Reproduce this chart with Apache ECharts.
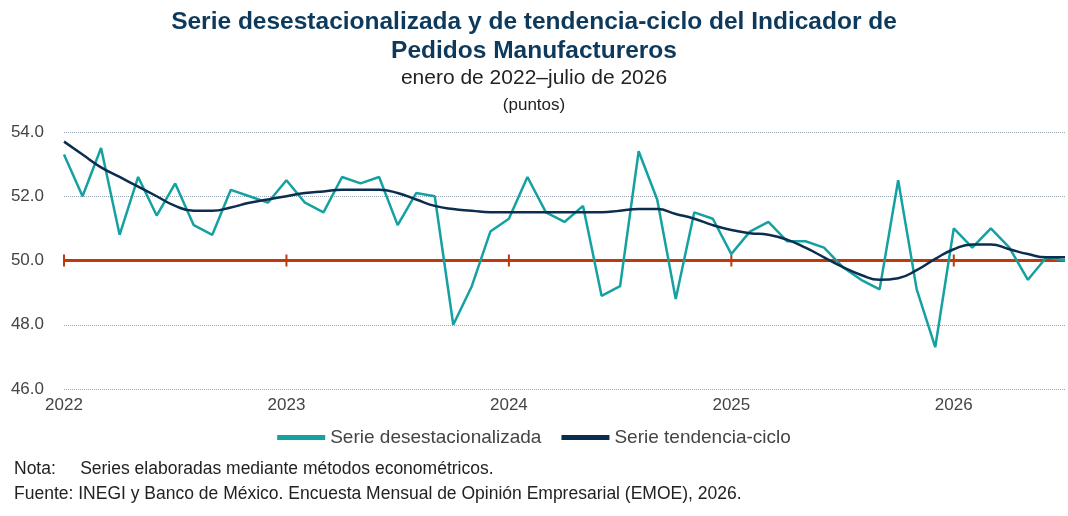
<!DOCTYPE html><html><head><meta charset="utf-8"><script src="https://cdn.jsdelivr.net/npm/echarts@6/dist/echarts.min.js"></script>
<style>body{margin:0}#c{width:1068px;height:516px}</style></head><body><div id="c"></div><script>
const years=['2022','2023','2024','2025','2026'];
const categories=[];years.forEach(y=>{for(let m=1;m<=12;m++){if(y==='2026'&&m>7)break;categories.push(y+'-'+m);}});
const desest=[53.3,52.0,53.5,50.8,52.6,51.4,52.4,51.1,50.8,52.2,52.0,51.8,
52.5,51.8,51.5,52.6,52.4,52.6,51.1,52.1,52.0,48.0,49.2,50.9,
51.3,52.6,51.5,51.2,51.7,48.9,49.2,53.4,51.9,48.8,51.5,51.3,
50.2,50.9,51.2,50.6,50.6,50.4,49.8,49.4,49.1,52.5,49.1,47.3,
51.0,50.4,51.0,50.4,49.4,50.1,50.0];
const tendencia=[53.7,53.3,52.9,52.6,52.3,52.0,51.7,51.55,51.55,51.65,51.8,51.9,
52.0,52.1,52.15,52.2,52.2,52.2,52.1,51.9,51.7,51.6,51.55,51.5,
51.5,51.5,51.5,51.5,51.5,51.5,51.55,51.6,51.6,51.45,51.3,51.1,
50.95,50.85,50.8,50.65,50.4,50.1,49.8,49.55,49.4,49.45,49.7,50.05,
50.35,50.5,50.5,50.35,50.2,50.1,50.1];
const umbral=50;
const refLine=categories.map((c,i)=>({value:umbral,symbol:(i%12===0)?'rect':'none',symbolSize:[2,12]}));
const chart=echarts.init(document.getElementById('c'));
chart.setOption({
 animation:false,
 title:[{text:'Serie desestacionalizada y de tendencia-ciclo del Indicador de\nPedidos Manufactureros',left:'center',top:3,textStyle:{fontFamily:'Liberation Sans',fontSize:24.5,fontWeight:'bold',color:'#0d3a5c',lineHeight:29}},
 {text:'enero de 2022–julio de 2026',left:'center',top:63,textStyle:{fontFamily:'Liberation Sans',fontSize:21,fontWeight:'normal',color:'#222'}},
 {text:'(puntos)',left:'center',top:92,textStyle:{fontFamily:'Liberation Sans',fontSize:17,fontWeight:'normal',color:'#222'}}],
 legend:{bottom:64,left:'center',itemWidth:48,itemGap:20,textStyle:{fontFamily:'Liberation Sans',fontSize:19,color:'#444'},data:[{name:'Serie desestacionalizada',icon:'path://M0,0H10V1H0Z'},{name:'Serie tendencia-ciclo',icon:'path://M0,0H10V1H0Z'}]},
 graphic:[{type:'text',left:14,top:460,style:{text:'Nota:     Series elaboradas mediante métodos econométricos.',font:'17.5px Liberation Sans',fill:'#222'}},
 {type:'text',left:14,top:485,style:{text:'Fuente: INEGI y Banco de México. Encuesta Mensual de Opinión Empresarial (EMOE), 2026.',font:'17.5px Liberation Sans',fill:'#222'}}],
 grid:{left:64,right:2,top:132,bottom:127},
 xAxis:{type:'category',data:categories,boundaryGap:false,axisLine:{show:false},axisTick:{show:false},
  axisLabel:{interval:0,formatter:v=>v.endsWith('-1')&&v.length===6?v.slice(0,4):'',fontFamily:'Liberation Sans',fontSize:17,color:'#444',margin:8,hideOverlap:false}},
 yAxis:{type:'value',min:46,max:54,interval:2,axisLabel:{formatter:v=>v.toFixed(1),fontFamily:'Liberation Sans',fontSize:17,color:'#444',margin:20},
  splitLine:{lineStyle:{type:'dotted',color:'#9aa5b1'}}},
 series:[
  {name:'umbral',type:'line',data:refLine,lineStyle:{color:'#c0390b',width:3},itemStyle:{color:'#c0390b'},z:1,silent:true},
  {name:'Serie desestacionalizada',type:'line',data:desest,showSymbol:false,lineStyle:{color:'#15a1a1',width:2.5},itemStyle:{color:'#15a1a1'},z:3},
  {name:'Serie tendencia-ciclo',type:'line',data:tendencia,smooth:true,showSymbol:false,lineStyle:{color:'#0b2e50',width:2.5},itemStyle:{color:'#0b2e50'},z:4}]
});
</script></body></html>
